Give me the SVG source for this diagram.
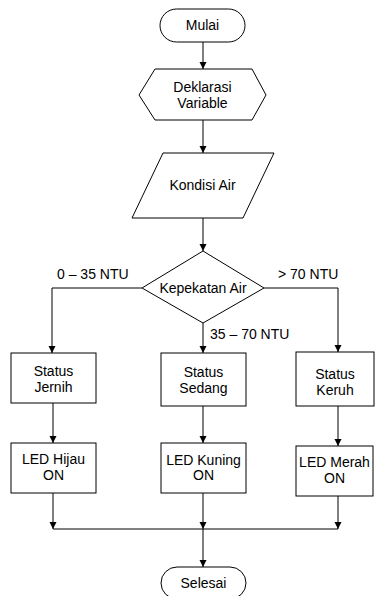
<svg xmlns="http://www.w3.org/2000/svg" width="377" height="596" viewBox="0 0 377 596">
<style>
.s{fill:#fff;stroke:#000;stroke-width:1}
.t{font-family:"Liberation Sans",Arial,sans-serif;font-size:14px;fill:#000;text-anchor:middle}
.l{font-family:"Liberation Sans",Arial,sans-serif;font-size:14px;fill:#000}
.c{fill:none;stroke:#000;stroke-width:1}
</style>
<defs>
<marker id="a" markerUnits="userSpaceOnUse" markerWidth="8" markerHeight="8" refX="7" refY="3.5" orient="auto">
<path d="M0,0 L7,3.5 L0,7 z" fill="#000"/>
</marker>
</defs>
<rect width="377" height="596" fill="#fff"/>
<g id="connectors">
<path class="c" d="M203,42 V69" marker-end="url(#a)"/>
<path class="c" d="M203,120 V153" marker-end="url(#a)"/>
<path class="c" d="M203,218 V251" marker-end="url(#a)"/>
<path class="c" d="M142,288 H52 V353" marker-end="url(#a)"/>
<path class="c" d="M203,323 V353" marker-end="url(#a)"/>
<path class="c" d="M264,288 H338 V352" marker-end="url(#a)"/>
<path class="c" d="M53,403 V443" marker-end="url(#a)"/>
<path class="c" d="M203,406 V443" marker-end="url(#a)"/>
<path class="c" d="M338,406 V446" marker-end="url(#a)"/>
<path class="c" d="M53,493 V529" marker-end="url(#a)"/>
<path class="c" d="M203,493 V529" marker-end="url(#a)"/>
<path class="c" d="M338,496 V529" marker-end="url(#a)"/>
<path class="c" d="M53,529 H338"/>
<path class="c" d="M203,529 V567" marker-end="url(#a)"/>
<text class="l" x="57" y="279">0 – 35 NTU</text>
<text class="l" x="278" y="279">&gt; 70 NTU</text>
<text class="l" x="210" y="339">35 – 70 NTU</text>
</g>
<g id="mulai">
<rect class="s" x="160" y="9" width="85" height="33" rx="16.5"/>
<text class="t" x="202.5" y="30">Mulai</text>
</g>
<g id="deklarasi">
<polygon class="s" points="155,69 252,69 266,95 252,120 155,120 139,95"/>
<text class="t" x="202.5" y="92">Deklarasi</text>
<text class="t" x="202.5" y="108">Variable</text>
</g>
<g id="kondisi">
<polygon class="s" points="163,153 274,153 243,218 132,218"/>
<text class="t" x="202.5" y="190">Kondisi Air</text>
</g>
<g id="kepekatan">
<polygon class="s" points="203,251 264,288 203,323 142,288"/>
<text class="t" x="203" y="293">Kepekatan Air</text>
</g>
<g id="jernih">
<rect class="s" x="11" y="353" width="85" height="50"/>
<text class="t" x="53.5" y="376">Status</text>
<text class="t" x="53.5" y="392">Jernih</text>
</g>
<g id="sedang">
<rect class="s" x="161" y="353" width="85" height="53"/>
<text class="t" x="203.5" y="377">Status</text>
<text class="t" x="203.5" y="393">Sedang</text>
</g>
<g id="keruh">
<rect class="s" x="296" y="352" width="78" height="54"/>
<text class="t" x="335" y="379">Status</text>
<text class="t" x="335" y="395">Keruh</text>
</g>
<g id="hijau">
<rect class="s" x="11" y="443" width="85" height="50"/>
<text class="t" x="53.5" y="464">LED Hijau</text>
<text class="t" x="53.5" y="480">ON</text>
</g>
<g id="kuning">
<rect class="s" x="161" y="443" width="85" height="50"/>
<text class="t" x="203.5" y="465">LED Kuning</text>
<text class="t" x="203.5" y="480">ON</text>
</g>
<g id="merah">
<rect class="s" x="296" y="446" width="77" height="50"/>
<text class="t" x="334.5" y="467">LED Merah</text>
<text class="t" x="334.5" y="483">ON</text>
</g>
<g id="selesai">
<rect class="s" x="161" y="567" width="85" height="32" rx="16"/>
<text class="t" x="203.5" y="588">Selesai</text>
</g>
</svg>
